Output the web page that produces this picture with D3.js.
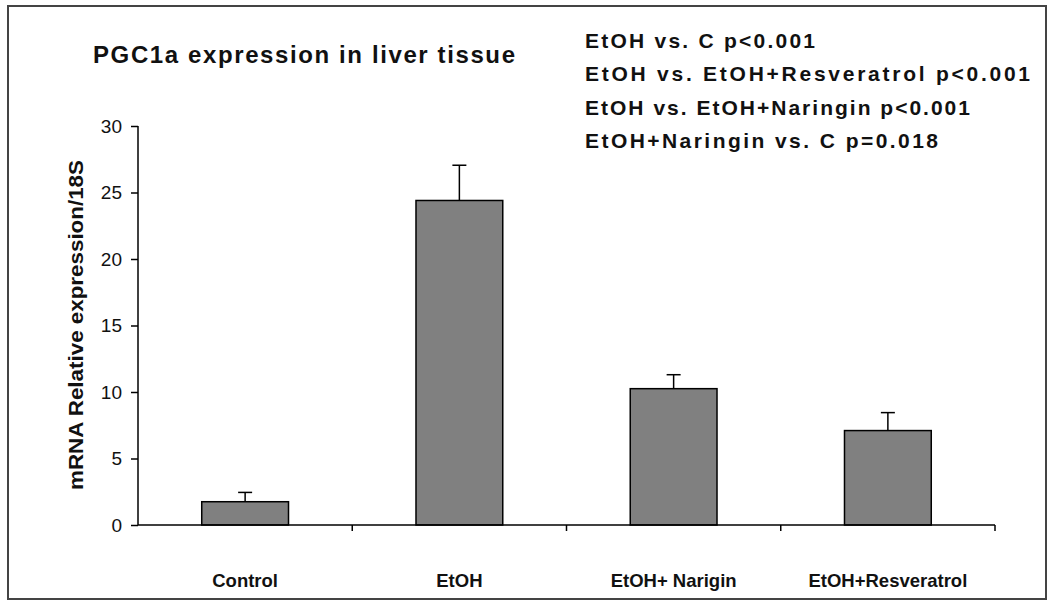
<!DOCTYPE html>
<html>
<head>
<meta charset="utf-8">
<script src="https://cdn.jsdelivr.net/npm/d3@7"></script>
<style>
  body { margin: 0; background: #fff; }
  svg text { font-family: "Liberation Sans", Arial, sans-serif; }
</style>
</head>
<body>
<div id="chart"></div>
<script>
var categories = ["Control", "EtOH", "EtOH+ Narigin", "EtOH+Resveratrol"];
var means = [1.75, 24.4, 10.25, 7.1];
var errors = [0.7, 2.65, 1.05, 1.35];
var yTicks = [0, 5, 10, 15, 20, 25, 30];
var notes = [
    "EtOH vs. C p<0.001",
    "EtOH vs. EtOH+Resveratrol p<0.001",
    "EtOH vs. EtOH+Naringin p<0.001",
    "EtOH+Naringin vs. C p=0.018"
];

var W = 1050, H = 605;
var margin = {top: 126, left: 138, right: 55, bottom: 80};
var width = W - margin.left - margin.right,
    height = H - margin.top - margin.bottom;

var svg = d3.select("#chart").append("svg")
    .attr("width", W)
    .attr("height", H);

// outer frame
svg.append("rect")
    .attr("x", 8).attr("y", 6)
    .attr("width", 1038).attr("height", 593)
    .attr("fill", "none")
    .attr("stroke", "#444")
    .attr("stroke-width", 2);

var g = svg.append("g")
    .attr("transform", "translate(" + margin.left + "," + margin.top + ")");

var x = d3.scaleBand().domain(categories).range([0, width]).paddingInner(0.595).paddingOuter(0.2975);
var y = d3.scaleLinear().domain([0, 30]).range([height, 0]);

// bars
g.selectAll(".bar")
    .data(categories)
  .enter().append("rect")
    .attr("class", "bar")
    .attr("x", function(d) { return x(d); })
    .attr("y", function(d, i) { return y(means[i]); })
    .attr("width", x.bandwidth())
    .attr("height", function(d, i) { return y(0) - y(means[i]); })
    .attr("fill", "#808080")
    .attr("stroke", "#000")
    .attr("stroke-width", 1.5);

// error bars (upper only)
var cap = 7;
categories.forEach(function(d, i) {
    var cx = x(d) + x.bandwidth() / 2;
    g.append("line")
        .attr("x1", cx).attr("x2", cx)
        .attr("y1", y(means[i])).attr("y2", y(means[i] + errors[i]))
        .attr("stroke", "#000").attr("stroke-width", 1.5);
    g.append("line")
        .attr("x1", cx - cap).attr("x2", cx + cap)
        .attr("y1", y(means[i] + errors[i])).attr("y2", y(means[i] + errors[i]))
        .attr("stroke", "#000").attr("stroke-width", 1.5);
});

// y axis
var yAxis = g.append("g")
    .call(d3.axisLeft(y).tickValues(yTicks).tickSize(7).tickPadding(9));
yAxis.select(".domain").attr("stroke", "#000").attr("stroke-width", 1.5).attr("d", "M0,0V" + height);
yAxis.selectAll(".tick line").attr("stroke-width", 1.5);
yAxis.selectAll("text")
    .attr("font-size", 19)
    .attr("fill", "#111");

// x axis with ticks at category boundaries
var step = width / categories.length;
var xAxis = g.append("g").attr("transform", "translate(0," + height + ")");
xAxis.append("line")
    .attr("x1", 0).attr("x2", width)
    .attr("stroke", "#000").attr("stroke-width", 1.5);
d3.range(1, categories.length + 1).forEach(function(k) {
    xAxis.append("line")
        .attr("x1", k * step).attr("x2", k * step)
        .attr("y1", 0).attr("y2", 6)
        .attr("stroke", "#000").attr("stroke-width", 1.5);
});
xAxis.selectAll(".xlabel")
    .data(categories)
  .enter().append("text")
    .attr("class", "xlabel")
    .attr("x", function(d) { return x(d) + x.bandwidth() / 2; })
    .attr("y", 62)
    .attr("text-anchor", "middle")
    .attr("font-size", 18.5)
    .attr("font-weight", "bold")
    .attr("fill", "#111")
    .text(function(d) { return d; });

// y axis title
svg.append("text")
    .attr("transform", "translate(83,325) rotate(-90)")
    .attr("text-anchor", "middle")
    .attr("font-size", 20)
    .attr("font-weight", "bold")
    .attr("fill", "#111")
    .attr("textLength", 330)
    .attr("lengthAdjust", "spacingAndGlyphs")
    .text("mRNA Relative expression/18S");

// chart title
svg.append("text")
    .attr("x", 93).attr("y", 63)
    .attr("font-size", 24)
    .attr("font-weight", "bold")
    .attr("fill", "#111")
    .attr("textLength", 422)
    .attr("lengthAdjust", "spacing")
    .text("PGC1a expression in liver tissue");

// p-value notes
var noteLen = [230, 445, 385, 353];
svg.selectAll(".note")
    .data(notes)
  .enter().append("text")
    .attr("class", "note")
    .attr("x", 585)
    .attr("y", function(d, i) { return 48 + i * 33.3; })
    .attr("font-size", 21)
    .attr("font-weight", "bold")
    .attr("fill", "#111")
    .attr("textLength", function(d, i) { return noteLen[i]; })
    .attr("lengthAdjust", "spacing")
    .text(function(d) { return d; });
</script>
</body>
</html>
